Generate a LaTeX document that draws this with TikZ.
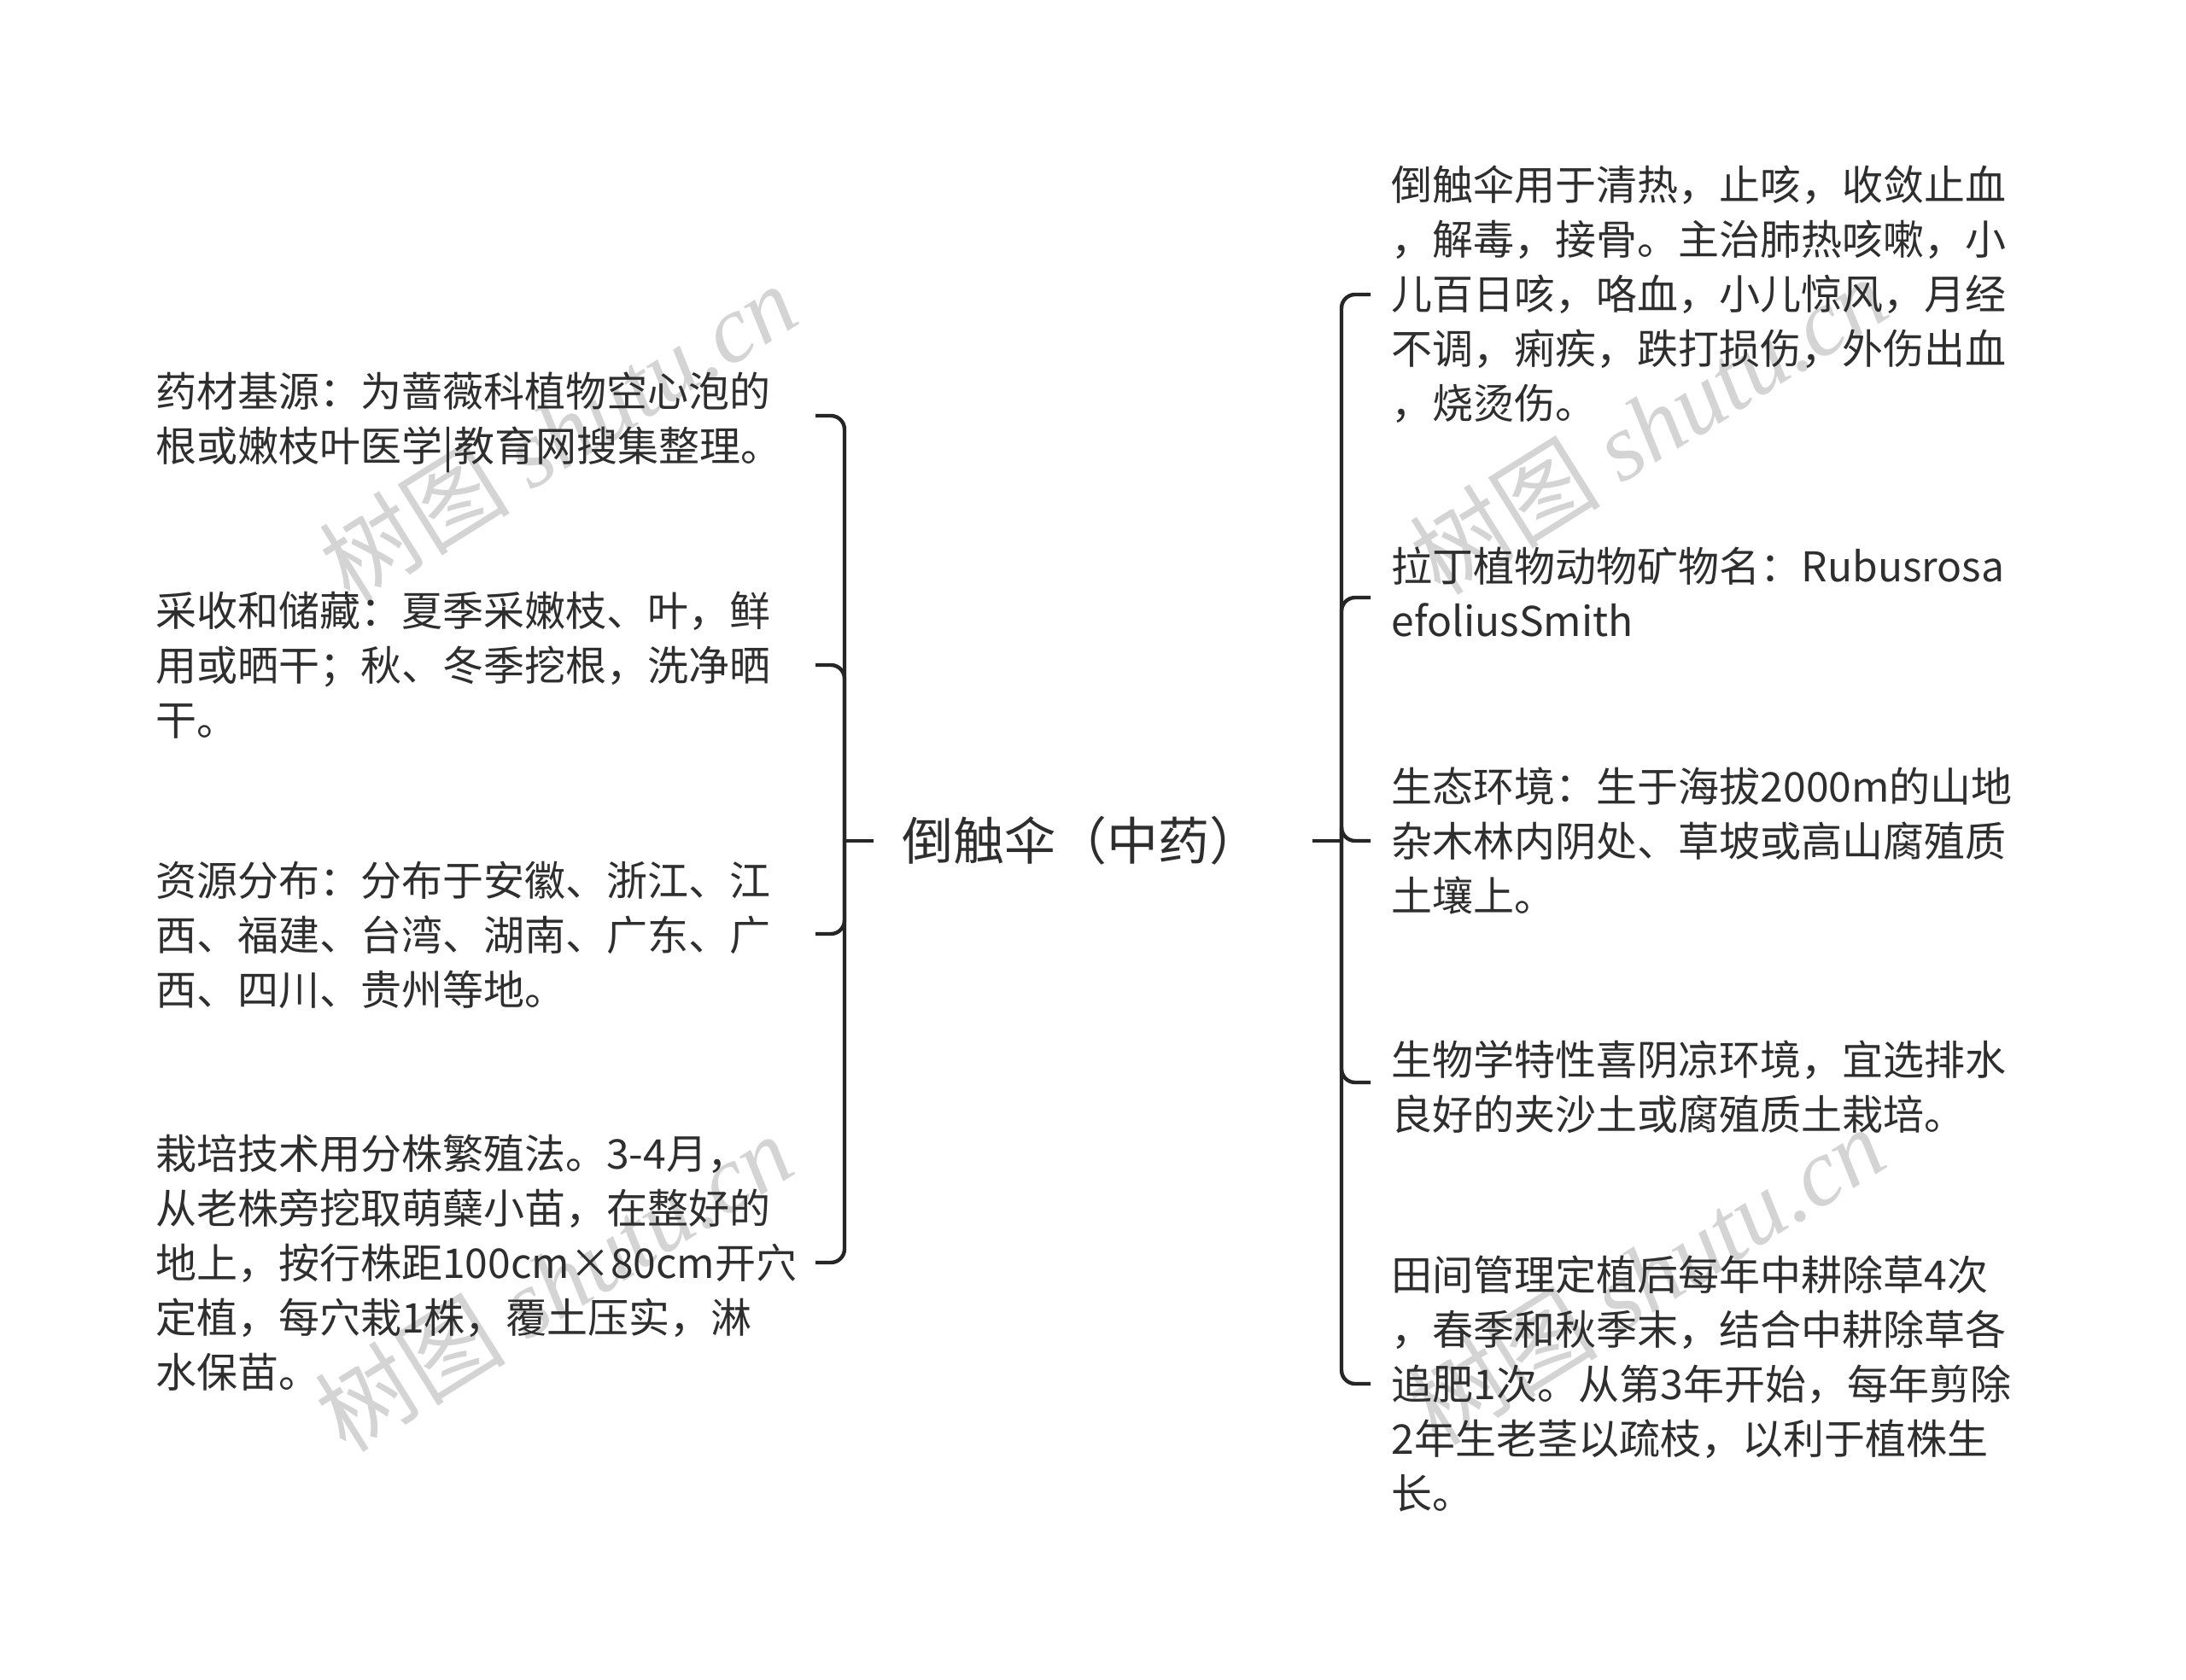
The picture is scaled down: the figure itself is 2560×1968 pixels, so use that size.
\documentclass[tikz,border=0pt]{standalone}
\usepackage{fontspec}
\setmainfont{Noto Sans CJK SC}
\newfontfamily\wmlatin{Liberation Serif}
\definecolor{ink}{HTML}{2E2E2E}
\definecolor{lineink}{HTML}{262626}
\definecolor{wmgray}{HTML}{D4D4D4}
\tikzset{
  conn/.style={draw=lineink, line width=1.1pt, rounded corners=4pt},
  rootnode/.style={inner sep=0pt, minimum width=128.25pt, minimum height=24pt, text=ink,
    font=\fontsize{15pt}{18pt}\selectfont},
  lnode/.style={anchor=east, inner xsep=0pt, inner ysep=0pt, text width=193pt, align=left, text=ink,
    font=\fontsize{12pt}{16pt}\selectfont},
  rnode/.style={anchor=west, inner xsep=6pt, inner ysep=0pt, align=left, text=ink,
    font=\fontsize{12pt}{16pt}\selectfont},
  wmark/.style={text=wmgray, inner sep=0pt, rotate=32, font=\fontsize{28pt}{28pt}\selectfont}
}
\begin{document}
\begin{tikzpicture}[x=0.25pt,y=-0.25pt]
\useasboundingbox[fill=white] (0,0) rectangle (2560,1968);
% watermarks
\node[wmark] (wm1) at (653,506) {树图 {\wmlatin\itshape shutu.cn}};
\node[wmark] (wm2) at (1930,498) {树图 {\wmlatin\itshape shutu.cn}};
\node[wmark] (wm3) at (648,1502) {树图 {\wmlatin\itshape shutu.cn}};
\node[wmark] (wm4) at (1927,1494) {树图 {\wmlatin\itshape shutu.cn}};
% root
\node[rootnode] (root) at (1280,985) {倒触伞（中药）\hspace*{7pt}};
\coordinate (LJ) at (989,985);
\coordinate (RJ) at (1571,985);
% left children
\node[lnode] (l1) at (955,495) {药材基源：为蔷薇科植物空心泡的\\根或嫩枝叶医学|教育网搜集整理。};
\node[lnode] (l2) at (955,779) {采收和储藏：夏季采嫩枝、叶，鲜\\用或晒干；秋、冬季挖根，洗净晒\\干。};
\node[lnode] (l3) at (955,1095) {资源分布：分布于安徽、浙江、江\\西、福建、台湾、湖南、广东、广\\西、四川、贵州等地。};
\node[lnode] (l4) at (955,1479) {栽培技术用分株繁殖法。3-4月，\\从老株旁挖取萌蘖小苗，在整好的\\地上，按行株距100cm×80cm开穴\\定植，每穴栽1株，覆土压实，淋\\水保苗。};
% right children
\node[rnode] (r1) at (1605,345) {倒触伞用于清热，止咳，收敛止血\\，解毒，接骨。主治肺热咳嗽，小\\儿百日咳，咯血，小儿惊风，月经\\不调，痢疾，跌打损伤，外伤出血\\，烧烫伤。};
\node[rnode] (r2) at (1605,693) {拉丁植物动物矿物名：Rubusrosa\\efoliusSmith};
\node[rnode] (r3) at (1605,985) {生态环境：生于海拔2000m的山地\\杂木林内阴处、草坡或高山腐殖质\\土壤上。};
\node[rnode] (r4) at (1605,1273) {生物学特性喜阴凉环境，宜选排水\\良好的夹沙土或腐殖质土栽培。};
\node[rnode] (r5) at (1605,1621) {田间管理定植后每年中耕除草4次\\，春季和秋季末，结合中耕除草各\\追肥1次。从第3年开始，每年剪除\\2年生老茎以疏枝，以利于植株生\\长。};
% connectors
\draw[conn] (root.west) -- (LJ);
\draw[conn] (root.east) -- (RJ);
\draw[conn] (LJ) |- ([yshift=2pt]l1.east);
\draw[conn] (LJ) |- (l2.east);
\draw[conn] (LJ) |- ([yshift=0.25pt]l3.east);
\draw[conn] (LJ) |- (l4.east);
\draw[conn] (RJ) |- (r1.west);
\draw[conn] (RJ) |- ([yshift=-1.75pt]r2.west);
\draw[conn] (RJ) |- (r3.west);
\draw[conn] (RJ) |- ([yshift=1.25pt]r4.west);
\draw[conn] (RJ) |- (r5.west);
\end{tikzpicture}
\end{document}
